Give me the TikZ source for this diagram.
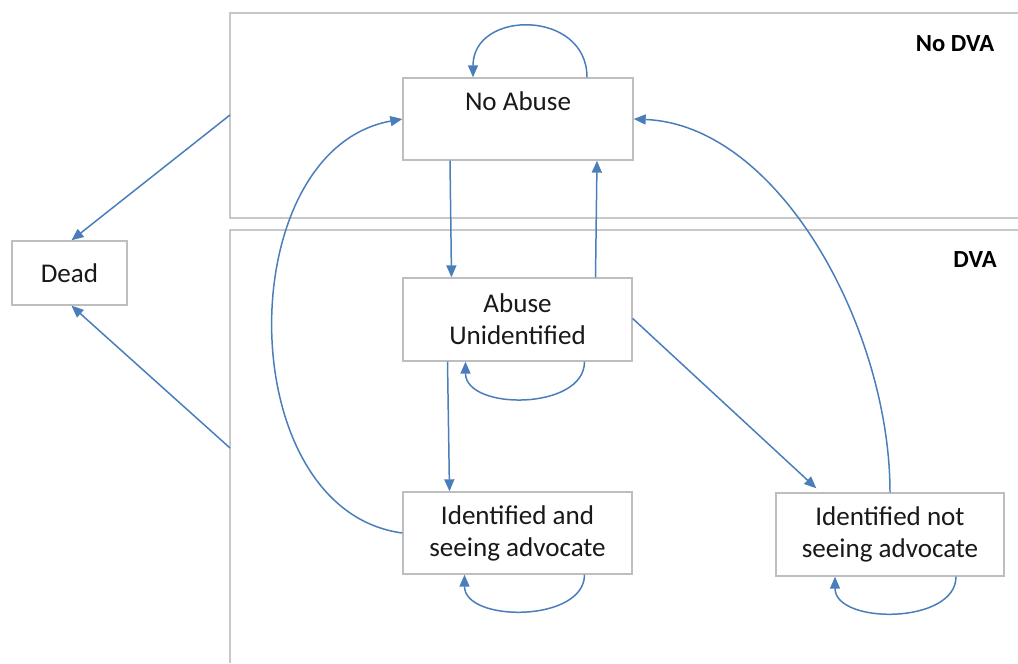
\documentclass[tikz,border=0pt]{standalone}
\usepackage{fontspec}
\setmainfont{Carlito}
\usetikzlibrary{arrows.meta,calc}
\definecolor{arrblue}{RGB}{74,126,187}
\definecolor{boxgray}{RGB}{190,190,190}
\definecolor{reggray}{RGB}{200,200,200}
\tikzset{
  statebox/.style={draw=boxgray, line width=0.8pt, rectangle, inner sep=0pt, fill=white},
  stext/.style={font=\fontsize{15.4}{18.2}\selectfont, align=center, inner sep=0pt, text=black!90},
  regtitle/.style={font=\fontsize{14}{16}\selectfont\bfseries, inner sep=0pt},
  region/.style={draw=reggray, line width=1.1pt},
  arr/.style={draw=arrblue, line width=0.85pt, -{Triangle[length=0.24cm,width=0.2cm]}},
}
\begin{document}
\begin{tikzpicture}[x=0.02cm,y=-0.02cm]
\useasboundingbox (0,0) rectangle (1018,663);
% regions
\draw[region] (1018,13) -- (230,13) -- (230,218) -- (1018,218);
\draw[region] (1018,230) -- (230,230) -- (230,663);
\coordinate (nodvaedge) at (230,115);
\coordinate (dvaedge) at (230,448);
\node[regtitle, anchor=center] (nodvalbl) at (955,44) {No DVA};
\node[regtitle, anchor=center] (dvalbl) at (975,260) {DVA};
% states
\node[statebox, minimum width=4.6cm, minimum height=1.64cm] (na) at (518,119) {};
\node[stext] (natext) at ($(na.north)+(0,24)$) {No Abuse};
\node[statebox, stext, minimum width=4.58cm, minimum height=1.66cm] (au) at (517.5,319.5) {Abuse\\Unidentified};
\node[statebox, stext, minimum width=4.58cm, minimum height=1.64cm] (isa) at (517.5,533) {Identified and\\seeing advocate};
\node[statebox, stext, minimum width=4.56cm, minimum height=1.66cm] (insa) at (890,534.5) {Identified not\\seeing advocate};
\node[statebox, stext, minimum width=2.3cm, minimum height=1.28cm] (dead) at (69.5,273) {Dead};
% straight transitions
\draw[arr] ($(na.south)+(-68,0)$) -- ($(au.north)+(-66,0)$);
\draw[arr] ($(au.north)+(78,0)$) -- ($(na.south)+(79,0)$);
\draw[arr] ($(au.south)+(-70,0)$) -- ($(isa.north)+(-68,0)$);
\draw[arr] ($(au.east)+(0,-1)$) -- ($(insa.north west)+(41,-4)$);
\draw[arr] (nodvaedge) -- ($(dead.north)+(2,0)$);
\draw[arr] (dvaedge) -- ($(dead.south)+(2,0)$);
% self loops
\draw[arr] ($(na.north)+(69,0)$) .. controls +(0,-68) and +(0,-68) .. ($(na.north)+(-45,0)$);
\draw[arr] ($(au.south)+(67,0)$) .. controls +(0,49) and +(0,49) .. ($(au.south)+(-52,0)$);
\draw[arr] ($(isa.south)+(67,0)$) .. controls +(0,48) and +(0,48) .. ($(isa.south)+(-53,0)$);
\draw[arr] ($(insa.south)+(66,0)$) .. controls +(0,48) and +(0,48) .. ($(insa.south)+(-55,0)$);
% long arcs
\draw[arr] (isa.west) .. controls (230,510) and (230,150) .. (na.west);
\draw[arr] (insa.north) .. controls (890,330) and (780,125) .. (na.east);
\end{tikzpicture}
\end{document}
